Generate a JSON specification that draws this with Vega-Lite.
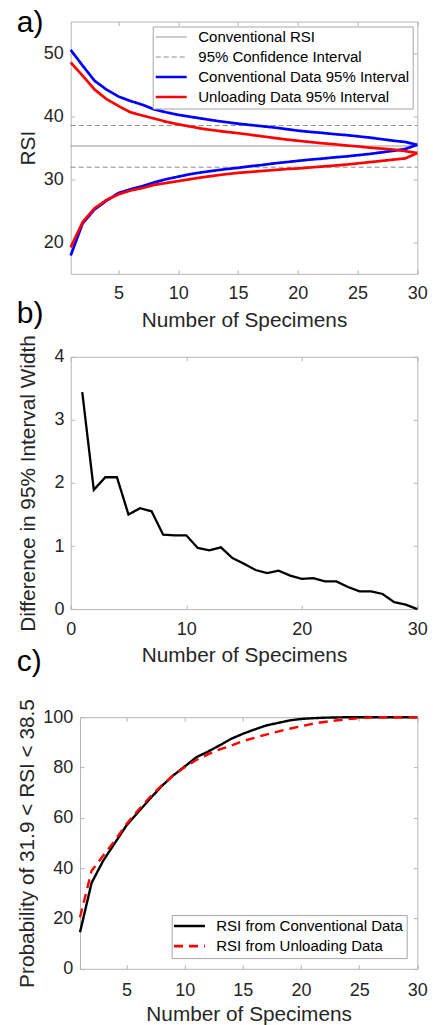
{
  "$schema": "https://vega.github.io/schema/vega-lite/v6.json",
  "padding": {"left": 16.7, "top": 7.5, "right": 0, "bottom": 0},
  "bounds": "flush",
  "spacing": 82.3,
  "resolve": {"scale": {"color": "independent", "strokeDash": "independent", "x": "independent", "y": "independent"}, "legend": {"color": "independent", "strokeDash": "independent"}},
  "config": {
    "font": "Liberation Sans",
    "view": {"stroke": null},
    "axis": {"grid": false, "domainColor": "#b5b5b5", "tickColor": "#b5b5b5", "tickSize": -4, "labelColor": "#262626", "titleColor": "#262626", "labelFontSize": 18, "titleFontSize": 20.8, "titleFontWeight": "normal", "labelFlush": false, "labelOverlap": false, "labelFont": "Liberation Sans", "titleFont": "Liberation Sans"},
    "legend": {"labelFontSize": 15, "labelColor": "#000000", "labelFont": "Liberation Sans", "symbolSize": 961, "symbolType": "stroke", "strokeColor": "#a6a6a6", "fillColor": "#ffffff", "padding": 3, "rowPadding": 4, "labelOffset": 19.6, "symbolOffset": 8, "labelLimit": 400},
    "title": {"font": "Liberation Sans", "fontSize": 30, "fontWeight": "normal", "color": "#000000", "anchor": "start", "frame": "group", "baseline": "alphabetic", "dx": -54}
  },
  "datasets": {
    "a": [
      {"n": 1, "rsi": 35.26, "series": "Conventional RSI", "bound": "mid"},
      {"n": 30, "rsi": 35.26, "series": "Conventional RSI", "bound": "mid"},
      {"n": 1, "rsi": 38.5, "series": "95% Confidence Interval", "bound": "upper"},
      {"n": 30, "rsi": 38.5, "series": "95% Confidence Interval", "bound": "upper"},
      {"n": 1, "rsi": 31.9, "series": "95% Confidence Interval", "bound": "lower"},
      {"n": 30, "rsi": 31.9, "series": "95% Confidence Interval", "bound": "lower"},
      {"n": 1, "rsi": 50.5, "series": "Conventional Data 95% Interval", "bound": "upper"},
      {"n": 2, "rsi": 48.0, "series": "Conventional Data 95% Interval", "bound": "upper"},
      {"n": 3, "rsi": 45.6, "series": "Conventional Data 95% Interval", "bound": "upper"},
      {"n": 4, "rsi": 44.2, "series": "Conventional Data 95% Interval", "bound": "upper"},
      {"n": 5, "rsi": 43.1, "series": "Conventional Data 95% Interval", "bound": "upper"},
      {"n": 6, "rsi": 42.4, "series": "Conventional Data 95% Interval", "bound": "upper"},
      {"n": 7, "rsi": 41.8, "series": "Conventional Data 95% Interval", "bound": "upper"},
      {"n": 8, "rsi": 41.05, "series": "Conventional Data 95% Interval", "bound": "upper"},
      {"n": 9, "rsi": 40.6, "series": "Conventional Data 95% Interval", "bound": "upper"},
      {"n": 10, "rsi": 40.2, "series": "Conventional Data 95% Interval", "bound": "upper"},
      {"n": 11, "rsi": 39.9, "series": "Conventional Data 95% Interval", "bound": "upper"},
      {"n": 12, "rsi": 39.6, "series": "Conventional Data 95% Interval", "bound": "upper"},
      {"n": 13, "rsi": 39.3, "series": "Conventional Data 95% Interval", "bound": "upper"},
      {"n": 14, "rsi": 39.05, "series": "Conventional Data 95% Interval", "bound": "upper"},
      {"n": 15, "rsi": 38.8, "series": "Conventional Data 95% Interval", "bound": "upper"},
      {"n": 16, "rsi": 38.6, "series": "Conventional Data 95% Interval", "bound": "upper"},
      {"n": 17, "rsi": 38.4, "series": "Conventional Data 95% Interval", "bound": "upper"},
      {"n": 18, "rsi": 38.2, "series": "Conventional Data 95% Interval", "bound": "upper"},
      {"n": 19, "rsi": 37.95, "series": "Conventional Data 95% Interval", "bound": "upper"},
      {"n": 20, "rsi": 37.7, "series": "Conventional Data 95% Interval", "bound": "upper"},
      {"n": 21, "rsi": 37.5, "series": "Conventional Data 95% Interval", "bound": "upper"},
      {"n": 22, "rsi": 37.35, "series": "Conventional Data 95% Interval", "bound": "upper"},
      {"n": 23, "rsi": 37.15, "series": "Conventional Data 95% Interval", "bound": "upper"},
      {"n": 24, "rsi": 37.0, "series": "Conventional Data 95% Interval", "bound": "upper"},
      {"n": 25, "rsi": 36.8, "series": "Conventional Data 95% Interval", "bound": "upper"},
      {"n": 26, "rsi": 36.6, "series": "Conventional Data 95% Interval", "bound": "upper"},
      {"n": 27, "rsi": 36.35, "series": "Conventional Data 95% Interval", "bound": "upper"},
      {"n": 28, "rsi": 36.1, "series": "Conventional Data 95% Interval", "bound": "upper"},
      {"n": 29, "rsi": 35.9, "series": "Conventional Data 95% Interval", "bound": "upper"},
      {"n": 30, "rsi": 35.45, "series": "Conventional Data 95% Interval", "bound": "upper"},
      {"n": 1, "rsi": 17.9, "series": "Conventional Data 95% Interval", "bound": "lower"},
      {"n": 2, "rsi": 23.0, "series": "Conventional Data 95% Interval", "bound": "lower"},
      {"n": 3, "rsi": 25.2, "series": "Conventional Data 95% Interval", "bound": "lower"},
      {"n": 4, "rsi": 26.6, "series": "Conventional Data 95% Interval", "bound": "lower"},
      {"n": 5, "rsi": 27.8, "series": "Conventional Data 95% Interval", "bound": "lower"},
      {"n": 6, "rsi": 28.4, "series": "Conventional Data 95% Interval", "bound": "lower"},
      {"n": 7, "rsi": 28.9, "series": "Conventional Data 95% Interval", "bound": "lower"},
      {"n": 8, "rsi": 29.5, "series": "Conventional Data 95% Interval", "bound": "lower"},
      {"n": 9, "rsi": 30.0, "series": "Conventional Data 95% Interval", "bound": "lower"},
      {"n": 10, "rsi": 30.4, "series": "Conventional Data 95% Interval", "bound": "lower"},
      {"n": 11, "rsi": 30.8, "series": "Conventional Data 95% Interval", "bound": "lower"},
      {"n": 12, "rsi": 31.1, "series": "Conventional Data 95% Interval", "bound": "lower"},
      {"n": 13, "rsi": 31.35, "series": "Conventional Data 95% Interval", "bound": "lower"},
      {"n": 14, "rsi": 31.6, "series": "Conventional Data 95% Interval", "bound": "lower"},
      {"n": 15, "rsi": 31.8, "series": "Conventional Data 95% Interval", "bound": "lower"},
      {"n": 16, "rsi": 32.05, "series": "Conventional Data 95% Interval", "bound": "lower"},
      {"n": 17, "rsi": 32.25, "series": "Conventional Data 95% Interval", "bound": "lower"},
      {"n": 18, "rsi": 32.5, "series": "Conventional Data 95% Interval", "bound": "lower"},
      {"n": 19, "rsi": 32.7, "series": "Conventional Data 95% Interval", "bound": "lower"},
      {"n": 20, "rsi": 32.9, "series": "Conventional Data 95% Interval", "bound": "lower"},
      {"n": 21, "rsi": 33.1, "series": "Conventional Data 95% Interval", "bound": "lower"},
      {"n": 22, "rsi": 33.25, "series": "Conventional Data 95% Interval", "bound": "lower"},
      {"n": 23, "rsi": 33.45, "series": "Conventional Data 95% Interval", "bound": "lower"},
      {"n": 24, "rsi": 33.6, "series": "Conventional Data 95% Interval", "bound": "lower"},
      {"n": 25, "rsi": 33.8, "series": "Conventional Data 95% Interval", "bound": "lower"},
      {"n": 26, "rsi": 34.0, "series": "Conventional Data 95% Interval", "bound": "lower"},
      {"n": 27, "rsi": 34.25, "series": "Conventional Data 95% Interval", "bound": "lower"},
      {"n": 28, "rsi": 34.5, "series": "Conventional Data 95% Interval", "bound": "lower"},
      {"n": 29, "rsi": 34.8, "series": "Conventional Data 95% Interval", "bound": "lower"},
      {"n": 30, "rsi": 35.45, "series": "Conventional Data 95% Interval", "bound": "lower"},
      {"n": 1, "rsi": 48.5, "series": "Unloading Data 95% Interval", "bound": "upper"},
      {"n": 2, "rsi": 46.4, "series": "Unloading Data 95% Interval", "bound": "upper"},
      {"n": 3, "rsi": 44.2, "series": "Unloading Data 95% Interval", "bound": "upper"},
      {"n": 4, "rsi": 42.7, "series": "Unloading Data 95% Interval", "bound": "upper"},
      {"n": 5, "rsi": 41.6, "series": "Unloading Data 95% Interval", "bound": "upper"},
      {"n": 6, "rsi": 40.6, "series": "Unloading Data 95% Interval", "bound": "upper"},
      {"n": 7, "rsi": 40.1, "series": "Unloading Data 95% Interval", "bound": "upper"},
      {"n": 8, "rsi": 39.6, "series": "Unloading Data 95% Interval", "bound": "upper"},
      {"n": 9, "rsi": 39.1, "series": "Unloading Data 95% Interval", "bound": "upper"},
      {"n": 10, "rsi": 38.7, "series": "Unloading Data 95% Interval", "bound": "upper"},
      {"n": 11, "rsi": 38.35, "series": "Unloading Data 95% Interval", "bound": "upper"},
      {"n": 12, "rsi": 38.0, "series": "Unloading Data 95% Interval", "bound": "upper"},
      {"n": 13, "rsi": 37.75, "series": "Unloading Data 95% Interval", "bound": "upper"},
      {"n": 14, "rsi": 37.5, "series": "Unloading Data 95% Interval", "bound": "upper"},
      {"n": 15, "rsi": 37.3, "series": "Unloading Data 95% Interval", "bound": "upper"},
      {"n": 16, "rsi": 37.05, "series": "Unloading Data 95% Interval", "bound": "upper"},
      {"n": 17, "rsi": 36.8, "series": "Unloading Data 95% Interval", "bound": "upper"},
      {"n": 18, "rsi": 36.55, "series": "Unloading Data 95% Interval", "bound": "upper"},
      {"n": 19, "rsi": 36.3, "series": "Unloading Data 95% Interval", "bound": "upper"},
      {"n": 20, "rsi": 36.1, "series": "Unloading Data 95% Interval", "bound": "upper"},
      {"n": 21, "rsi": 35.9, "series": "Unloading Data 95% Interval", "bound": "upper"},
      {"n": 22, "rsi": 35.7, "series": "Unloading Data 95% Interval", "bound": "upper"},
      {"n": 23, "rsi": 35.55, "series": "Unloading Data 95% Interval", "bound": "upper"},
      {"n": 24, "rsi": 35.35, "series": "Unloading Data 95% Interval", "bound": "upper"},
      {"n": 25, "rsi": 35.2, "series": "Unloading Data 95% Interval", "bound": "upper"},
      {"n": 26, "rsi": 35.0, "series": "Unloading Data 95% Interval", "bound": "upper"},
      {"n": 27, "rsi": 34.85, "series": "Unloading Data 95% Interval", "bound": "upper"},
      {"n": 28, "rsi": 34.7, "series": "Unloading Data 95% Interval", "bound": "upper"},
      {"n": 29, "rsi": 34.45, "series": "Unloading Data 95% Interval", "bound": "upper"},
      {"n": 30, "rsi": 34.15, "series": "Unloading Data 95% Interval", "bound": "upper"},
      {"n": 1, "rsi": 19.2, "series": "Unloading Data 95% Interval", "bound": "lower"},
      {"n": 2, "rsi": 23.2, "series": "Unloading Data 95% Interval", "bound": "lower"},
      {"n": 3, "rsi": 25.4, "series": "Unloading Data 95% Interval", "bound": "lower"},
      {"n": 4, "rsi": 26.7, "series": "Unloading Data 95% Interval", "bound": "lower"},
      {"n": 5, "rsi": 27.6, "series": "Unloading Data 95% Interval", "bound": "lower"},
      {"n": 6, "rsi": 28.2, "series": "Unloading Data 95% Interval", "bound": "lower"},
      {"n": 7, "rsi": 28.6, "series": "Unloading Data 95% Interval", "bound": "lower"},
      {"n": 8, "rsi": 29.1, "series": "Unloading Data 95% Interval", "bound": "lower"},
      {"n": 9, "rsi": 29.4, "series": "Unloading Data 95% Interval", "bound": "lower"},
      {"n": 10, "rsi": 29.7, "series": "Unloading Data 95% Interval", "bound": "lower"},
      {"n": 11, "rsi": 30.0, "series": "Unloading Data 95% Interval", "bound": "lower"},
      {"n": 12, "rsi": 30.3, "series": "Unloading Data 95% Interval", "bound": "lower"},
      {"n": 13, "rsi": 30.55, "series": "Unloading Data 95% Interval", "bound": "lower"},
      {"n": 14, "rsi": 30.8, "series": "Unloading Data 95% Interval", "bound": "lower"},
      {"n": 15, "rsi": 31.0, "series": "Unloading Data 95% Interval", "bound": "lower"},
      {"n": 16, "rsi": 31.15, "series": "Unloading Data 95% Interval", "bound": "lower"},
      {"n": 17, "rsi": 31.3, "series": "Unloading Data 95% Interval", "bound": "lower"},
      {"n": 18, "rsi": 31.45, "series": "Unloading Data 95% Interval", "bound": "lower"},
      {"n": 19, "rsi": 31.6, "series": "Unloading Data 95% Interval", "bound": "lower"},
      {"n": 20, "rsi": 31.7, "series": "Unloading Data 95% Interval", "bound": "lower"},
      {"n": 21, "rsi": 31.85, "series": "Unloading Data 95% Interval", "bound": "lower"},
      {"n": 22, "rsi": 32.0, "series": "Unloading Data 95% Interval", "bound": "lower"},
      {"n": 23, "rsi": 32.15, "series": "Unloading Data 95% Interval", "bound": "lower"},
      {"n": 24, "rsi": 32.3, "series": "Unloading Data 95% Interval", "bound": "lower"},
      {"n": 25, "rsi": 32.5, "series": "Unloading Data 95% Interval", "bound": "lower"},
      {"n": 26, "rsi": 32.7, "series": "Unloading Data 95% Interval", "bound": "lower"},
      {"n": 27, "rsi": 32.9, "series": "Unloading Data 95% Interval", "bound": "lower"},
      {"n": 28, "rsi": 33.1, "series": "Unloading Data 95% Interval", "bound": "lower"},
      {"n": 29, "rsi": 33.3, "series": "Unloading Data 95% Interval", "bound": "lower"},
      {"n": 30, "rsi": 34.15, "series": "Unloading Data 95% Interval", "bound": "lower"}
    ],
    "b": [
      {"n": 1, "d": 3.44}, {"n": 2, "d": 1.89}, {"n": 3, "d": 2.09}, {"n": 4, "d": 2.09}, {"n": 5, "d": 1.5},
      {"n": 6, "d": 1.6}, {"n": 7, "d": 1.55}, {"n": 8, "d": 1.18}, {"n": 9, "d": 1.17}, {"n": 10, "d": 1.17},
      {"n": 11, "d": 0.97}, {"n": 12, "d": 0.93}, {"n": 13, "d": 0.98}, {"n": 14, "d": 0.81}, {"n": 15, "d": 0.72},
      {"n": 16, "d": 0.62}, {"n": 17, "d": 0.57}, {"n": 18, "d": 0.61}, {"n": 19, "d": 0.53}, {"n": 20, "d": 0.48},
      {"n": 21, "d": 0.49}, {"n": 22, "d": 0.44}, {"n": 23, "d": 0.44}, {"n": 24, "d": 0.35}, {"n": 25, "d": 0.28},
      {"n": 26, "d": 0.28}, {"n": 27, "d": 0.24}, {"n": 28, "d": 0.11}, {"n": 29, "d": 0.07}, {"n": 30, "d": 0.0}
    ],
    "c": [
      {"n": 1, "p": 14.5, "series": "RSI from Conventional Data"},
      {"n": 2, "p": 34.2, "series": "RSI from Conventional Data"},
      {"n": 3, "p": 43.0, "series": "RSI from Conventional Data"},
      {"n": 4, "p": 50.0, "series": "RSI from Conventional Data"},
      {"n": 5, "p": 57.0, "series": "RSI from Conventional Data"},
      {"n": 6, "p": 62.3, "series": "RSI from Conventional Data"},
      {"n": 7, "p": 67.5, "series": "RSI from Conventional Data"},
      {"n": 8, "p": 72.5, "series": "RSI from Conventional Data"},
      {"n": 9, "p": 76.8, "series": "RSI from Conventional Data"},
      {"n": 10, "p": 80.4, "series": "RSI from Conventional Data"},
      {"n": 11, "p": 84.1, "series": "RSI from Conventional Data"},
      {"n": 12, "p": 86.3, "series": "RSI from Conventional Data"},
      {"n": 13, "p": 88.8, "series": "RSI from Conventional Data"},
      {"n": 14, "p": 91.4, "series": "RSI from Conventional Data"},
      {"n": 15, "p": 93.4, "series": "RSI from Conventional Data"},
      {"n": 16, "p": 95.1, "series": "RSI from Conventional Data"},
      {"n": 17, "p": 96.7, "series": "RSI from Conventional Data"},
      {"n": 18, "p": 97.7, "series": "RSI from Conventional Data"},
      {"n": 19, "p": 98.7, "series": "RSI from Conventional Data"},
      {"n": 20, "p": 99.3, "series": "RSI from Conventional Data"},
      {"n": 21, "p": 99.6, "series": "RSI from Conventional Data"},
      {"n": 22, "p": 99.8, "series": "RSI from Conventional Data"},
      {"n": 23, "p": 99.9, "series": "RSI from Conventional Data"},
      {"n": 24, "p": 100, "series": "RSI from Conventional Data"},
      {"n": 25, "p": 100, "series": "RSI from Conventional Data"},
      {"n": 26, "p": 100, "series": "RSI from Conventional Data"},
      {"n": 27, "p": 100, "series": "RSI from Conventional Data"},
      {"n": 28, "p": 100, "series": "RSI from Conventional Data"},
      {"n": 29, "p": 100, "series": "RSI from Conventional Data"},
      {"n": 30, "p": 100, "series": "RSI from Conventional Data"},
      {"n": 1, "p": 20.5, "series": "RSI from Unloading Data"},
      {"n": 2, "p": 39.0, "series": "RSI from Unloading Data"},
      {"n": 3, "p": 45.0, "series": "RSI from Unloading Data"},
      {"n": 4, "p": 51.0, "series": "RSI from Unloading Data"},
      {"n": 5, "p": 57.6, "series": "RSI from Unloading Data"},
      {"n": 6, "p": 63.0, "series": "RSI from Unloading Data"},
      {"n": 7, "p": 68.2, "series": "RSI from Unloading Data"},
      {"n": 8, "p": 72.8, "series": "RSI from Unloading Data"},
      {"n": 9, "p": 76.8, "series": "RSI from Unloading Data"},
      {"n": 10, "p": 80.1, "series": "RSI from Unloading Data"},
      {"n": 11, "p": 83.0, "series": "RSI from Unloading Data"},
      {"n": 12, "p": 85.2, "series": "RSI from Unloading Data"},
      {"n": 13, "p": 87.2, "series": "RSI from Unloading Data"},
      {"n": 14, "p": 88.7, "series": "RSI from Unloading Data"},
      {"n": 15, "p": 90.5, "series": "RSI from Unloading Data"},
      {"n": 16, "p": 91.8, "series": "RSI from Unloading Data"},
      {"n": 17, "p": 93.1, "series": "RSI from Unloading Data"},
      {"n": 18, "p": 94.3, "series": "RSI from Unloading Data"},
      {"n": 19, "p": 95.4, "series": "RSI from Unloading Data"},
      {"n": 20, "p": 96.4, "series": "RSI from Unloading Data"},
      {"n": 21, "p": 97.4, "series": "RSI from Unloading Data"},
      {"n": 22, "p": 98.1, "series": "RSI from Unloading Data"},
      {"n": 23, "p": 98.7, "series": "RSI from Unloading Data"},
      {"n": 24, "p": 99.2, "series": "RSI from Unloading Data"},
      {"n": 25, "p": 99.6, "series": "RSI from Unloading Data"},
      {"n": 26, "p": 99.9, "series": "RSI from Unloading Data"},
      {"n": 27, "p": 100, "series": "RSI from Unloading Data"},
      {"n": 28, "p": 100, "series": "RSI from Unloading Data"},
      {"n": 29, "p": 100, "series": "RSI from Unloading Data"},
      {"n": 30, "p": 100, "series": "RSI from Unloading Data"}
    ]
  },
  "vconcat": [
    {
      "width": 346.6,
      "height": 252.3,
      "title": {"text": "a)", "offset": -16.6},
      "data": {"name": "a"},
      "layer": [
        {
          "transform": [{"filter": "datum.series === 'Conventional RSI' || datum.series === '95% Confidence Interval'"}],
          "mark": {"type": "line", "strokeWidth": 1},
          "encoding": {
            "x": {"field": "n", "type": "quantitative", "scale": {"domain": [1, 30], "nice": false, "zero": false}, "axis": {"values": [5, 10, 15, 20, 25, 30], "title": "Number of Specimens", "titleY": 53, "titleBaseline": "alphabetic", "labelPadding": 14.8}},
            "y": {"field": "rsi", "type": "quantitative", "scale": {"domain": [15, 55], "nice": false, "zero": false}, "axis": {"values": [20, 30, 40, 50], "title": "RSI", "titleX": -35.7, "titleBaseline": "alphabetic", "labelPadding": 11.5}},
            "color": {"field": "series", "type": "nominal", "scale": {"domain": ["Conventional RSI", "95% Confidence Interval", "Conventional Data 95% Interval", "Unloading Data 95% Interval"], "range": ["#8c8c8c", "#8c8c8c", "#0000ff", "#ff0000"]}, "legend": {"title": null, "orient": "top-right", "offset": 5, "encode": {"symbols": {"update": {"strokeWidth": {"signal": "datum.value === 'Conventional RSI' || datum.value === '95% Confidence Interval' ? 1 : 2.7"}}}}}},
            "strokeDash": {"field": "series", "type": "nominal", "scale": {"domain": ["Conventional RSI", "95% Confidence Interval", "Conventional Data 95% Interval", "Unloading Data 95% Interval"], "range": [[1, 0], [5, 3], [1, 0], [1, 0]]}, "legend": {"title": null}},
            "detail": {"field": "bound"}
          }
        },
        {
          "transform": [{"filter": "datum.series !== 'Conventional RSI' && datum.series !== '95% Confidence Interval'"}],
          "mark": {"type": "line", "strokeWidth": 2.7},
          "encoding": {
            "x": {"field": "n", "type": "quantitative", "axis": null},
            "y": {"field": "rsi", "type": "quantitative", "axis": null},
            "color": {"field": "series", "type": "nominal"},
            "strokeDash": {"field": "series", "type": "nominal"},
            "detail": {"field": "bound"}
          }
        },
        {
          "mark": {"type": "point", "opacity": 0},
          "encoding": {
            "x": {"field": "n", "type": "quantitative", "axis": {"orient": "top", "labels": false, "title": null, "values": [5, 10, 15, 20, 25, 30]}},
            "y": {"field": "rsi", "type": "quantitative", "axis": {"orient": "right", "labels": false, "title": null, "values": [20, 30, 40, 50]}}
          }
        }
      ],
      "resolve": {"axis": {"x": "independent", "y": "independent"}}
    },
    {
      "width": 346.6,
      "height": 252.3,
      "title": {"text": "b)", "offset": 5.5},
      "data": {"name": "b"},
      "layer": [
        {
          "mark": {"type": "line", "color": "#000000", "strokeWidth": 2.3},
          "encoding": {
            "x": {"field": "n", "type": "quantitative", "scale": {"domain": [0, 30], "nice": false, "zero": false}, "axis": {"values": [0, 10, 20, 30], "title": "Number of Specimens", "titleY": 52, "titleBaseline": "alphabetic", "labelPadding": 15.5}},
            "y": {"field": "d", "type": "quantitative", "scale": {"domain": [0, 4], "nice": false}, "axis": {"values": [0, 1, 2, 3, 4], "title": "Difference in 95% Interval Width", "titleX": -35.7, "titleBaseline": "alphabetic", "labelPadding": 10.7}}
          }
        },
        {
          "mark": {"type": "point", "opacity": 0},
          "encoding": {
            "x": {"field": "n", "type": "quantitative", "axis": {"orient": "top", "labels": false, "title": null, "values": [0, 10, 20, 30]}},
            "y": {"field": "d", "type": "quantitative", "axis": {"orient": "right", "labels": false, "title": null, "values": [0, 1, 2, 3, 4]}}
          }
        }
      ],
      "resolve": {"axis": {"x": "independent", "y": "independent"}}
    },
    {
      "width": 346.6,
      "height": 276.7,
      "title": {"text": "c)", "offset": 14.6},
      "data": {"name": "c"},
      "layer": [
        {
          "mark": {"type": "line", "strokeWidth": 2.4},
          "encoding": {
            "x": {"field": "n", "type": "quantitative", "scale": {"domain": [1, 30], "nice": false, "zero": false, "range": [9.3, 346.6]}, "axis": {"values": [5, 10, 15, 20, 25, 30], "title": "Number of Specimens", "titleY": 52, "titleBaseline": "alphabetic", "labelPadding": 16.5}},
            "y": {"field": "p", "type": "quantitative", "scale": {"domain": [0, 100], "nice": false, "range": [276.7, 25.1]}, "axis": {"values": [0, 20, 40, 60, 80, 100], "offset": -9.3, "title": "Probability of 31.9 < RSI < 38.5", "titleX": -46, "titleBaseline": "alphabetic", "labelPadding": 11.3}},
            "color": {"field": "series", "type": "nominal", "scale": {"domain": ["RSI from Conventional Data", "RSI from Unloading Data"], "range": ["#000000", "#ff0000"]}, "legend": {"title": null, "orient": "bottom-right", "offset": 11, "padding": 3.5, "labelOffset": 19.3, "symbolOffset": 6.8, "encode": {"symbols": {"update": {"strokeWidth": {"signal": "datum.value === 'RSI from Conventional Data' ? 2.5 : 2.6"}}}}}},
            "strokeDash": {"field": "series", "type": "nominal", "scale": {"domain": ["RSI from Conventional Data", "RSI from Unloading Data"], "range": [[1, 0], [9, 6]]}, "legend": {"title": null}}
          }
        },
        {
          "mark": {"type": "point", "opacity": 0},
          "encoding": {
            "x": {"field": "n", "type": "quantitative", "axis": {"orient": "top", "offset": -25.1, "labels": false, "title": null, "values": [5, 10, 15, 20, 25, 30]}},
            "y": {"field": "p", "type": "quantitative", "axis": {"orient": "right", "labels": false, "title": null, "values": [0, 20, 40, 60, 80, 100]}}
          }
        }
      ],
      "resolve": {"axis": {"x": "independent", "y": "independent"}}
    }
  ]
}
